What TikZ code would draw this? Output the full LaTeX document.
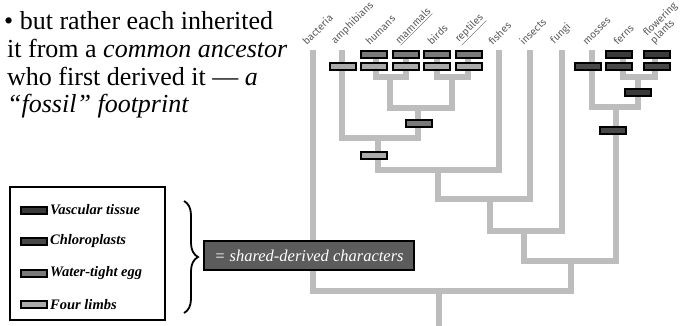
\documentclass[tikz,border=0pt]{standalone}
\usepackage{fontspec}
\setmainfont{Liberation Serif}
\newfontfamily\taxonfont{Fira Sans}
\usetikzlibrary{decorations.pathreplacing}

\definecolor{branch}{HTML}{BDBDBD}
\definecolor{vascular}{HTML}{3A3A3A}
\definecolor{chloro}{HTML}{484848}
\definecolor{eggfill}{HTML}{7A7A7A}
\definecolor{limbfill}{HTML}{ABABAB}
\definecolor{taxongray}{HTML}{5A5A5A}
\definecolor{notefill}{HTML}{5C5C5C}

\tikzset{
  branchline/.style={draw=branch, line width=6.5pt, line join=miter, line cap=butt},
  trait/.style={draw=black, line width=2pt, minimum width=26pt, minimum height=7pt,
                inner sep=0pt, outer sep=0pt},
  vasc/.style={trait, fill=vascular},
  chlo/.style={trait, fill=chloro},
  egg/.style={trait, fill=eggfill},
  limb/.style={trait, fill=limbfill},
  taxon/.style={anchor=south west, rotate=45, inner sep=0pt, text=taxongray,
                font=\taxonfont\fontsize{10.2}{10.2}\selectfont},
  bodyline/.style={anchor=base west, inner sep=0pt, font=\fontsize{26}{28}\selectfont},
  legendtext/.style={anchor=west, inner sep=0pt, font=\fontsize{14.5}{15}\selectfont\bfseries\itshape},
}

\begin{document}
\begin{tikzpicture}[x=1pt, y=-1pt]
\useasboundingbox (0,0) rectangle (688,326);

% ---------- explanatory text ----------
\node[bodyline] (t1) at (4,30)  {• but rather each inherited};
\node[bodyline] (t2) at (7,58)  {it from a \textit{common ancestor}};
\node[bodyline] (t3) at (7,86)  {who first derived it — \textit{a}};
\node[bodyline] (t4) at (7,113) {\textit{“fossil” footprint}};

% ---------- tree: tips ----------
\coordinate (bac) at (313,50);
\coordinate (amp) at (342,50);
\coordinate (hum) at (376,50);
\coordinate (mam) at (406,50);
\coordinate (bir) at (437,50);
\coordinate (rep) at (468,50);
\coordinate (fis) at (499,50);
\coordinate (ins) at (530,50);
\coordinate (fun) at (562,50);
\coordinate (mos) at (592,50);
\coordinate (fer) at (623,50);
\coordinate (flo) at (655,50);

% ---------- tree: branching points ----------
\coordinate (hm)   at (390,77);
\coordinate (br)   at (452,77);
\coordinate (amn)  at (418,108);
\coordinate (tet)  at (378,138);
\coordinate (ver)  at (438,170);
\coordinate (ani)  at (490,199);
\coordinate (af)   at (524,231);
\coordinate (ff)   at (638,77);
\coordinate (pla)  at (616,107);
\coordinate (euk)  at (571,261);
\coordinate (root) at (439,291);
\coordinate (base) at (439,330);

\begin{scope}[branchline]
  \draw (hum) |- (hm) -| (mam);
  \draw (bir) |- (br) -| (rep);
  \draw (hm) |- (amn) -| (br);
  \draw (amp) |- (tet) -| (amn);
  \draw (tet) |- (ver) -| (fis);
  \draw (ver) |- (ani) -| (ins);
  \draw (ani) |- (af) -| (fun);
  \draw (fer) |- (ff) -| (flo);
  \draw (mos) |- (pla) -| (ff);
  \draw (af) |- (euk) -| (pla);
  \draw (bac) |- (root) -| (euk);
  \draw (root) -- (base);
\end{scope}

% ---------- taxon names ----------
\node[taxon] (nbac) at (307,46) {bacteria};
\node[taxon] (namp) at (337,46) {amphibians};
\node[taxon] (nhum) at (370,46) {humans};
\node[taxon] (nmam) at (401,46) {\underline{mammals}};
\node[taxon] (nbir) at (432,46) {birds};
\node[taxon] (nrep) at (462,46) {\underline{reptiles}};
\node[taxon] (nfis) at (493,46) {fishes};
\node[taxon] (nins) at (524,46) {insects};
\node[taxon] (nfun) at (556,46) {fungi};
\node[taxon] (nmos) at (587,46) {mosses};
\node[taxon] (nfer) at (618,46) {ferns};
\node[taxon, align=left] (nflo) at (656,46) {flowering\\plants};

% ---------- derived characters on the tree ----------
\node[egg]  (e1) at (374,54.5) {};
\node[egg]  (e2) at (405.5,54.5) {};
\node[egg]  (e3) at (437,54.5) {};
\node[egg]  (e4) at (468.5,54.5) {};
\node[limb] (f0) at (342.5,67) {};
\node[limb] (f1) at (374,67) {};
\node[limb] (f2) at (405.5,67) {};
\node[limb] (f3) at (437,67) {};
\node[limb] (f4) at (468.5,67) {};
\node[egg]  (enode) at (418.5,124) {};
\node[limb] (fnode) at (374,156) {};

\node[vasc] (v1) at (619,54.5) {};
\node[vasc] (v2) at (657,54.5) {};
\node[chlo] (c0) at (588,67) {};
\node[chlo] (c1) at (619,67) {};
\node[chlo] (c2) at (657,67) {};
\node[vasc] (vnode) at (638,92.5) {};
\node[chlo] (cnode) at (613,130.5) {};

% ---------- legend ----------
\node[draw=black, line width=2pt, minimum width=155pt, minimum height=133pt,
      inner sep=0pt] (legend) at (87.5,253.5) {};
\node[vasc] (k1) at (34,210) {};
\node[chlo] (k2) at (34,241.5) {};
\node[egg]  (k3) at (34,273) {};
\node[limb] (k4) at (34,304.5) {};
\node[legendtext] (kt1) at (50,210)   {Vascular tissue};
\node[legendtext] (kt2) at (50,241.5) {Chloroplasts};
\node[legendtext] (kt3) at (50,273)   {Water-tight egg};
\node[legendtext] (kt4) at (50,304.5) {Four limbs};

\coordinate (bracetop) at (184,201);
\coordinate (bracebot) at (184,313);
\draw[line width=1.8pt, decorate, decoration={brace, amplitude=14pt, aspect=0.5}]
  (bracetop) -- (bracebot);

\node[draw=black, line width=2pt, fill=notefill, minimum width=210pt,
      minimum height=29pt, inner sep=0pt, text=white,
      font=\fontsize{16.5}{18}\selectfont\itshape] (shared) at (309,255.5)
      {= shared-derived characters};
\end{tikzpicture}
\end{document}
